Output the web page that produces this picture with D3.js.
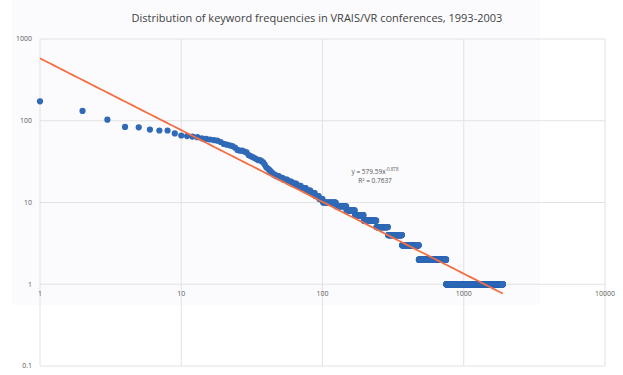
<!DOCTYPE html>
<html><head><meta charset="utf-8">
<script src="https://cdn.jsdelivr.net/npm/d3@7"></script>
<style>html,body{margin:0;padding:0;background:#fff;}svg{display:block;}</style>
</head><body>
<svg id="c" width="623" height="375"></svg>
<script>
// Frequencies of the top-ranked keywords (ranks 1..50)
const topFreqs = [173,132,103,84,83,78,76,76,70,66,65,64,63,61,60,59,58,57,55,52,
  51,50,49,47,44,43,43,42,41,38,37,36,35,34,33,33,32,31,29,27,
  26,25,24,23,22,22,21,21,21,20];
// Tied frequencies after rank 50: frequency and last rank of each run
const runFreqs = [20,19,18,17,16,15,14,13,12,11,10,9,8,7,6,5,4,3,2,1];
const runEndRanks = [52,56,60,65,70,76,82,88,94,100,124,147,169,195,240,290,365,480,750,1890];
// Power trend line fitted in the source
const trendA = 579.59, trendB = -0.878, trendR2 = "0.7637";
const xTicks = [1,10,100,1000,10000];
const yTicks = [0.1,1,10,100,1000];
const title = "Distribution of keyword frequencies in VRAIS/VR conferences, 1993-2003";

const points = topFreqs.map((f,i)=>({r:i+1,f}));
let start = topFreqs.length + 1;
runFreqs.forEach((f,k)=>{
  for(let r=start;r<=runEndRanks[k];r++) points.push({r,f});
  start = runEndRanks[k]+1;
});
const maxRank = runEndRanks[runEndRanks.length-1];

const svg = d3.select("#c");
const x = d3.scaleLog().domain([1,10000]).range([40,605]);
const y = d3.scaleLog().domain([0.1,1000]).range([366,39]);

svg.append("rect").attr("x",12).attr("y",0).attr("width",528).attr("height",305).attr("fill","#fbfbfd");

const g = svg.append("g");
g.selectAll(".vg").data(xTicks).join("line")
  .attr("x1",d=>x(d)).attr("x2",d=>x(d)).attr("y1",y(1000)).attr("y2",y(0.1))
  .attr("stroke","#e2e2e2").attr("stroke-width",1);
g.selectAll(".hg").data(yTicks).join("line")
  .attr("x1",x(1)).attr("x2",x(10000)).attr("y1",d=>y(d)).attr("y2",d=>y(d))
  .attr("stroke","#e2e2e2").attr("stroke-width",1);

// y labels
g.selectAll(".yl").data(yTicks).join("text")
  .attr("x",32).attr("y",d=>y(d)).attr("dy","0.35em").attr("text-anchor","end")
  .attr("font-family","Open Sans, sans-serif").attr("font-size",7).attr("fill","#595959")
  .text(d=>d3.format("~g")(d));
// x labels at y=1 crossing
g.selectAll(".xl").data(xTicks).join("text")
  .attr("x",d=>x(d)).attr("y",y(1)+12).attr("text-anchor","middle")
  .attr("font-family","Open Sans, sans-serif").attr("font-size",7).attr("fill","#595959")
  .text(d=>d3.format("~g")(d));

// points
g.selectAll(".pt").data(points).join("circle")
  .attr("cx",d=>x(d.r)).attr("cy",d=>y(d.f)).attr("r",3.1).attr("fill","#2f69b7");

// trend line
const trend = d3.range(0,101).map(i=>{const r=Math.pow(maxRank,i/100);return [r,trendA*Math.pow(r,trendB)];});
g.append("path").datum(trend)
  .attr("d",d3.line().x(d=>x(d[0])).y(d=>y(d[1])))
  .attr("fill","none").attr("stroke","#f26f43").attr("stroke-width",1.8);

// equation
const eq = g.append("text").attr("x",375).attr("y",174).attr("text-anchor","middle")
  .attr("font-family","Open Sans, sans-serif").attr("font-size",6.5).attr("fill","#555");
eq.append("tspan").text("y = "+trendA+"x");
eq.append("tspan").attr("dy",-3).attr("font-size",4.5).text(trendB);
g.append("text").attr("x",375).attr("y",183).attr("text-anchor","middle")
  .attr("font-family","Open Sans, sans-serif").attr("font-size",6.5).attr("fill","#555")
  .text("R² = "+trendR2);

// title
svg.append("text").attr("x",317).attr("y",22).attr("text-anchor","middle")
  .attr("font-family","Open Sans, sans-serif").attr("font-size",11).attr("fill","#3f3f3f")
  .text(title);
</script>
</body></html>
